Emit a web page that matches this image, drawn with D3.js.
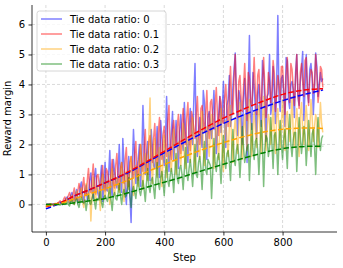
<!DOCTYPE html>
<html><head><meta charset="utf-8">
<script src="https://cdn.jsdelivr.net/npm/d3@7"></script>
<style>html,body{margin:0;padding:0;background:#fff;}svg{display:block;font-family:"DejaVu Sans",sans-serif;}</style>
</head><body><svg id="c" width="343" height="268"></svg>
<script>
const seriesNames = ["Tie data ratio: 0","Tie data ratio: 0.1","Tie data ratio: 0.2","Tie data ratio: 0.3"];
const seriesColors = ["blue","red","orange","green"];
const stepInterval = 8;
// values at steps 0, 8, 16, ...
const ratio0 = [0.0,0.01,-0.01,0.02,0.0,0.03,0.08,0.0,0.12,0.25,
0.05,0.4,0.1,0.5,0.15,0.75,0.05,0.65,0.3,1.05,
0.2,1.2,0.35,0.9,0.1,1.4,0.45,1.8,0.3,1.1,
0.55,2.0,0.4,1.3,0.0,1.6,-0.6,2.5,0.7,1.5,
0.6,3.3,1.0,2.1,0.8,1.9,1.2,2.6,0.9,2.2,
1.3,3.6,1.1,2.4,1.5,2.8,1.2,3.0,1.8,2.5,
1.4,3.2,2.0,4.7,1.6,2.9,1.9,3.4,1.5,3.1,
2.2,3.8,1.7,3.0,2.4,4.1,1.9,3.5,2.6,3.9,
5.05,2.3,3.6,2.0,4.2,1.4,5.63,2.5,3.9,2.2,
4.0,2.6,4.4,2.1,3.7,3.0,4.6,2.7,6.3,3.1,
4.3,2.6,4.8,3.2,4.1,2.9,5.0,3.3,4.5,2.8,
5.0,3.4,4.7,3.0,5.05,3.6,4.4,4.2];
const ratio01 = [0.0,0.0,0.02,-0.01,0.03,0.05,0.12,0.05,0.25,0.15,
0.4,0.1,0.55,0.2,0.7,0.25,0.9,0.3,1.2,0.4,
1.35,0.35,1.0,0.5,1.3,0.45,1.1,0.6,1.5,0.55,
1.7,0.5,1.4,0.7,1.9,0.6,1.6,0.9,2.1,0.8,
2.0,1.1,2.5,1.0,2.3,1.4,2.7,1.2,2.9,1.5,
2.6,1.6,3.3,1.5,2.8,1.9,3.0,1.7,3.2,2.0,
3.4,1.8,2.9,2.2,3.6,2.0,3.3,2.4,3.8,2.2,
3.5,2.5,3.9,2.3,3.4,2.7,4.0,2.6,4.6,3.0,
5.0,2.9,4.3,3.1,4.7,2.8,4.2,3.3,4.9,3.0,
4.5,3.2,4.9,2.9,4.4,3.4,4.8,3.1,4.3,3.5,
4.6,3.0,4.9,3.4,4.5,3.3,5.0,3.2,4.7,3.6,
4.9,3.3,4.5,3.7,5.0,3.4,4.6,3.9];
const ratio02 = [0.0,-0.01,0.01,0.0,0.02,0.04,0.0,0.1,0.05,0.2,
0.05,0.3,0.0,0.45,0.1,0.55,-0.1,0.7,0.2,-0.55,
0.9,0.1,0.6,-0.2,1.0,0.2,0.8,0.0,1.2,0.3,
0.9,0.4,1.4,0.1,1.1,0.5,1.6,0.3,1.3,0.6,
2.0,0.5,1.7,0.8,3.55,0.7,2.2,0.9,1.9,0.6,
2.3,0.9,1.8,1.1,2.5,1.0,2.1,1.3,2.7,1.2,
2.2,1.4,2.9,1.1,2.4,1.5,3.1,1.3,2.6,1.6,
3.0,1.2,2.7,1.5,3.2,1.1,2.8,1.6,3.3,1.4,
2.9,1.7,3.4,1.5,3.0,1.8,3.5,1.6,3.1,1.9,
3.3,1.7,3.6,1.8,3.0,2.0,3.4,1.7,3.2,1.9,
3.5,1.8,3.1,2.1,3.6,1.9,3.2,1.6,3.4,2.0,
3.3,1.8,3.5,2.1,3.0,1.9,3.4,2.4];
const ratio03 = [0.0,0.0,0.01,-0.01,0.0,0.02,-0.02,0.05,0.0,0.08,
-0.05,0.15,0.0,0.2,-0.1,0.25,0.05,-0.2,0.3,0.0,
0.35,-0.15,0.2,0.45,-0.1,0.3,0.1,0.55,-0.2,0.4,
0.15,0.7,0.0,0.5,0.3,0.9,-0.1,0.6,0.2,1.0,
0.3,0.8,0.1,1.2,0.4,0.9,0.2,1.4,0.5,1.1,
0.3,1.5,0.6,1.2,0.4,1.7,0.7,1.3,0.5,1.9,
0.8,1.5,0.6,2.0,0.9,1.6,0.5,2.1,1.0,1.4,
0.2,2.2,1.1,1.7,0.7,2.3,1.2,1.8,0.8,2.5,
1.3,2.0,0.9,2.6,1.4,1.9,0.8,2.7,1.5,2.2,
1.0,2.8,0.6,2.3,1.6,2.9,1.2,2.4,1.0,2.8,
1.5,2.5,1.2,3.0,1.6,2.4,1.1,2.9,1.7,2.6,
1.3,2.8,1.6,2.5,1.0,2.9,1.8,2.3];
// values at steps 4, 12, 20, ...
const ratio0Mid = [0.01,0.0,0.01,-0.01,0.02,0.05,0.04,0.08,0.2,0.1,
0.3,0.2,0.35,0.05,0.6,0.3,0.45,0.15,0.8,0.5,
0.9,0.6,0.2,1.3,0.7,0.5,1.0,0.6,1.5,0.8,
1.1,0.9,2.2,0.6,1.0,0.3,1.2,1.6,1.2,2.0,
1.5,2.0,1.6,1.4,2.5,1.3,1.8,1.7,2.8,1.6,
2.1,2.0,1.8,3.1,2.0,1.9,2.4,2.2,3.4,2.0,
2.6,2.4,3.5,2.3,2.5,2.2,3.8,2.4,2.9,2.6,
3.0,2.7,2.5,3.6,3.1,2.8,3.3,4.3,3.0,4.5,
3.4,3.8,2.9,3.5,3.3,3.9,3.0,4.4,3.2,3.7,
3.1,4.8,3.4,3.6,5.0,3.3,3.8,4.0,3.5,4.2,
3.7,4.9,3.5,4.0,3.8,4.4,3.6,4.1,5.1,3.9,
3.8,4.5,4.2,3.9,4.6,4.0,4.1];
const ratio01Mid = [0.0,0.01,0.0,0.02,0.0,0.08,0.06,0.18,0.1,0.3,
0.2,0.35,0.15,0.45,0.5,0.6,0.35,0.8,0.5,0.9,
0.6,0.95,0.7,0.9,0.6,1.2,0.8,1.05,0.7,1.3,
0.9,1.2,1.0,1.5,0.8,1.4,1.2,1.7,1.1,1.6,
1.4,1.9,1.3,2.1,1.6,2.2,1.8,2.4,1.7,2.3,
2.0,2.8,1.9,2.5,2.3,2.6,2.1,2.7,2.4,2.9,
2.3,3.1,2.5,3.0,2.6,3.2,2.8,3.0,2.7,3.4,
2.9,3.3,3.0,3.6,2.8,3.5,3.2,3.8,3.4,4.2,
3.6,4.1,3.5,3.9,3.7,4.4,3.4,4.0,3.8,4.3,
3.6,4.2,3.9,3.5,4.1,3.8,4.4,3.7,4.0,4.6,
3.8,4.3,4.0,4.7,3.9,4.2,3.7,4.4,4.1,4.8,
3.9,4.2,4.4,4.0,4.3,3.8,4.5];
const ratio02Mid = [0.0,0.0,0.02,-0.01,0.03,0.01,0.06,0.03,0.12,0.1,
0.2,0.15,0.25,0.2,0.35,0.1,0.3,0.4,0.5,0.3,
0.4,0.6,0.3,0.7,0.5,0.6,0.4,0.9,0.5,0.7,
0.6,1.0,0.7,0.9,0.6,1.2,0.8,1.0,0.9,1.4,
1.1,1.3,1.0,2.3,1.4,1.5,1.2,1.7,1.3,1.6,
1.5,1.7,1.4,1.9,1.6,1.5,1.8,2.0,1.6,2.1,
1.8,2.2,1.7,2.0,1.9,2.3,1.8,2.1,2.0,2.4,
1.9,2.2,2.1,2.5,1.8,2.3,2.2,2.6,2.0,2.4,
2.3,2.6,2.2,2.5,2.4,2.8,2.3,2.6,2.5,2.9,
2.4,2.7,2.6,2.5,2.8,2.6,2.4,2.9,2.5,2.7,
2.6,2.9,2.5,2.8,2.4,2.7,2.6,3.0,2.5,2.8,
2.7,2.5,2.9,2.6,2.8,2.5,2.7];
const ratio03Mid = [0.0,0.01,0.0,0.0,0.01,0.0,0.03,0.02,0.04,0.0,
0.1,0.05,0.1,0.0,0.12,0.08,0.15,0.1,0.05,0.2,
0.1,0.2,0.15,0.05,0.25,0.2,0.35,0.15,0.3,0.2,
0.4,0.3,0.35,0.25,0.5,0.3,0.45,0.4,0.6,0.45,
0.55,0.5,0.7,0.6,0.8,0.55,0.85,0.7,0.9,0.75,
1.0,0.8,0.95,0.9,1.1,0.85,1.2,1.0,1.15,1.05,
1.2,1.1,1.3,1.0,1.4,1.2,1.35,1.15,1.5,1.3,
1.1,1.4,1.55,1.3,1.6,1.45,1.7,1.4,1.75,1.5,
1.8,1.6,1.7,1.9,1.65,2.0,1.75,1.85,2.1,1.8,
1.9,2.0,1.85,2.2,1.9,2.05,2.3,1.95,2.1,2.0,
2.2,1.95,2.3,2.0,2.15,2.4,2.0,2.25,2.1,2.3,
2.0,2.2,2.35,1.95,2.25,2.1,2.2];
const trendSteps = [0,50,100,150,200,250,300,350,400,450,500,550,600,650,700,750,800,850,900,937];
const trend0 = [-0.15,0.05,0.3,0.5,0.72,0.93,1.17,1.45,1.72,1.98,2.23,2.47,2.7,2.91,3.11,3.29,3.46,3.61,3.73,3.82];
const trend01 = [-0.08,0.06,0.3,0.5,0.72,0.94,1.2,1.48,1.77,2.06,2.35,2.62,2.88,3.1,3.31,3.5,3.67,3.78,3.84,3.86];
const trend02 = [-0.05,0.04,0.2,0.36,0.52,0.7,0.9,1.12,1.33,1.53,1.72,1.9,2.06,2.21,2.34,2.44,2.51,2.54,2.55,2.53];
const trend03 = [0.0,0.0,0.06,0.12,0.2,0.31,0.45,0.6,0.74,0.88,1.04,1.19,1.34,1.49,1.63,1.76,1.86,1.92,1.94,1.94];
const xTicks = [0,200,400,600,800];
const yTicks = [0,1,2,3,4,5,6];

const raw = [[ratio0, ratio0Mid], [ratio01, ratio01Mid], [ratio02, ratio02Mid], [ratio03, ratio03Mid]];
const trends = [trend0, trend01, trend02, trend03];

const svg = d3.select("#c");
const L = 32, R = 337, T = 5, B = 232;
const x = d3.scaleLinear().domain([-47, 984]).range([L, R]);
const y = d3.scaleLinear().domain([-0.92, 6.65]).range([B, T]);

// grid
const g = svg.append("g");
g.selectAll(".gx").data(xTicks).join("line")
  .attr("x1", d => x(d)).attr("x2", d => x(d)).attr("y1", T).attr("y2", B)
  .attr("stroke", "#b0b0b0").attr("stroke-opacity", 0.6).attr("stroke-width", 0.8).attr("stroke-dasharray", "3,2");
g.selectAll(".gy").data(yTicks).join("line")
  .attr("x1", L).attr("x2", R).attr("y1", d => y(d)).attr("y2", d => y(d))
  .attr("stroke", "#b0b0b0").attr("stroke-opacity", 0.6).attr("stroke-width", 0.8).attr("stroke-dasharray", "3,2");

const line = d3.line().x(d => x(d[0])).y(d => y(d[1]));
raw.forEach(([main, mid], k) => {
  const pts = [];
  main.forEach((v, i) => {
    pts.push([i * stepInterval, v]);
    if (i < mid.length) pts.push([i * stepInterval + stepInterval / 2, mid[i]]);
  });
  svg.append("path").attr("d", line(pts)).attr("fill", "none")
    .attr("stroke", seriesColors[k]).attr("stroke-opacity", 0.5).attr("stroke-width", 1.5)
    .attr("stroke-linejoin", "round");
});
const tline = d3.line().x(d => x(d[0])).y(d => y(d[1])).curve(d3.curveMonotoneX);
trends.forEach((arr, k) => {
  const pts = arr.map((v, i) => [trendSteps[i], v]);
  svg.append("path").attr("d", tline(pts)).attr("fill", "none")
    .attr("stroke", seriesColors[k]).attr("stroke-width", 1.5).attr("stroke-dasharray", "5.5,2.4");
});

// axes
const ax = svg.append("g").attr("transform", `translate(0,${B})`)
  .call(d3.axisBottom(x).tickValues(xTicks).tickSize(3.5).tickPadding(3.5).tickFormat(d3.format("d")));
const ay = svg.append("g").attr("transform", `translate(${L},0)`)
  .call(d3.axisLeft(y).tickValues(yTicks).tickSize(3.5).tickPadding(3.5).tickFormat(d3.format("d")));
[ax, ay].forEach(a => {
  a.selectAll("text").attr("font-size", 10).attr("fill", "#000").attr("font-family", "DejaVu Sans");
  a.selectAll("line").attr("stroke", "#000").attr("stroke-width", 0.8);
  a.select(".domain").attr("stroke", "#000").attr("stroke-width", 0.8);
});
ax.select(".domain").attr("d", `M${L},0H${R}`);
ay.select(".domain").attr("d", `M0,${T}V${B}`);

svg.append("text").attr("x", (L + R) / 2).attr("y", 261).attr("text-anchor", "middle")
  .attr("font-size", 10).text("Step");
svg.append("text").attr("transform", `translate(11,${(T + B) / 2}) rotate(-90)`).attr("text-anchor", "middle")
  .attr("font-size", 10).text("Reward margin");

// legend
const lg = svg.append("g");
lg.append("rect").attr("x", 37).attr("y", 11).attr("width", 129).attr("height", 60).attr("rx", 2.5)
  .attr("fill", "#fff").attr("fill-opacity", 0.8).attr("stroke", "#cccccc").attr("stroke-width", 0.8);
seriesNames.forEach((n, k) => {
  const yy = 19 + k * 15;
  lg.append("line").attr("x1", 41).attr("x2", 62).attr("y1", yy).attr("y2", yy)
    .attr("stroke", seriesColors[k]).attr("stroke-opacity", 0.5).attr("stroke-width", 1.5);
  lg.append("text").attr("x", 70).attr("y", yy + 3.6).attr("font-size", 10).text(n);
});
</script></body></html>
